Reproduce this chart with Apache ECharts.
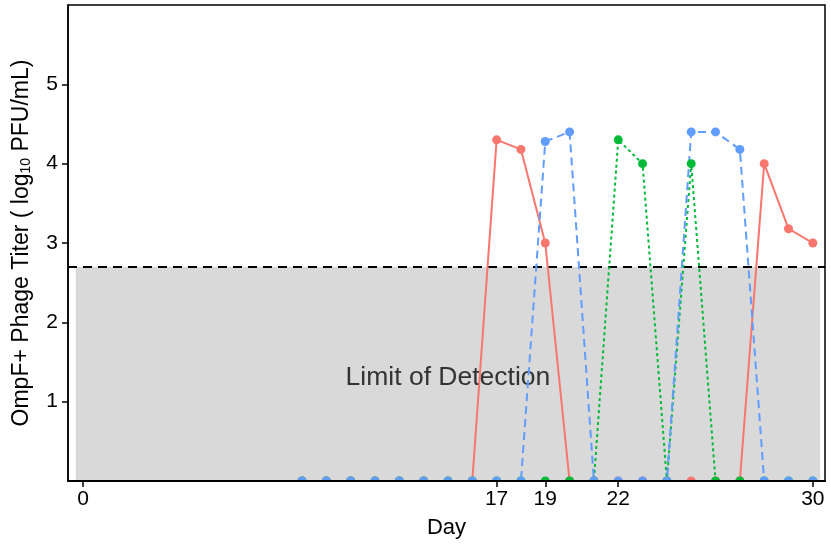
<!DOCTYPE html>
<html>
<head>
<meta charset="utf-8">
<script src="https://cdn.jsdelivr.net/npm/echarts@6/dist/echarts.min.js"></script>
<style>
  html, body { margin: 0; padding: 0; background: #fff; }
  #main { width: 831px; height: 546px; }
</style>
</head>
<body>
<div id="main"></div>
<script>
    var days = [9, 10, 11, 12, 13, 14, 15, 16, 17, 18, 19, 20, 21, 22, 23, 24, 25, 26, 27, 28, 29, 30];
    var redTiter = [0, 0, 0, 0, 0, 0, 0, 0, 4.3, 4.18, 3.0, 0, 0, 0, 0, 0, 0, 0, 0, 4.0, 3.18, 3.0];
    var greenTiter = [0, 0, 0, 0, 0, 0, 0, 0, 0, 0, 0, 0, 0, 4.3, 4.0, 0, 4.0, 0, 0, 0, 0, 0];
    var blueTiter = [0, 0, 0, 0, 0, 0, 0, 0, 0, 0, 4.28, 4.4, 0, 0, 0, 0, 4.4, 4.4, 4.18, 0, 0, 0];
    var xTicks = [0, 17, 19, 22, 30];
    var yTicks = [1, 2, 3, 4, 5];
    var detectionLimit = 2.7;

    function pairs(vals) {
        return days.map(function (d, i) { return [d, vals[i]]; });
    }

    var myChart = echarts.init(document.getElementById('main'));

    var font = 'Liberation Sans, Arial, sans-serif';

    function makeSeries(name, color, vals, dash) {
        return {
            name: name,
            type: 'line',
            data: pairs(vals),
            symbol: 'circle',
            symbolSize: 9,
            clip: true,
            z: 5,
            itemStyle: { color: color },
            lineStyle: { color: color, width: 2, type: dash },
            emphasis: { disabled: true }
        };
    }

    var option = {
        animation: false,
        textStyle: { fontFamily: font },
        grid: {
            left: 68,
            right: 6,
            top: 5,
            bottom: 65,
            show: true,
            borderColor: '#000',
            borderWidth: 1.5,
            backgroundColor: '#fff'
        },
        // white strip under the x axis so the dots sitting on 0 show as half dots
        graphic: [{
            type: 'rect',
            z: 10,
            silent: true,
            shape: { x: 69, y: 482, width: 762, height: 8 },
            style: { fill: '#fff' }
        }],
        xAxis: {
            type: 'value',
            min: -0.62,
            max: 30.5,
            z: 20,
            name: 'Day',
            nameLocation: 'middle',
            nameGap: 36,
            nameTextStyle: { fontSize: 22, color: '#000', fontFamily: font },
            splitLine: { show: false },
            axisLine: { show: true, onZero: false, lineStyle: { color: '#000', width: 2 } },
            axisTick: { show: true, customValues: xTicks, length: 6, lineStyle: { color: '#000', width: 1.5 } },
            axisLabel: { customValues: xTicks, fontSize: 21, color: '#000', margin: 8, fontFamily: font }
        },
        yAxis: {
            type: 'value',
            min: 0,
            max: 6,
            z: 20,
            name: '{n|OmpF+ Phage Titer ( log}{s|10}{n| PFU/mL)}',
            nameLocation: 'middle',
            nameGap: 35,
            nameRotate: 90,
            nameTextStyle: {
                rich: {
                    n: { fontSize: 23, color: '#000', fontFamily: font },
                    s: { fontSize: 14, color: '#000', fontFamily: font, verticalAlign: 'bottom', padding: [9, 0, 0, 0] }
                }
            },
            splitLine: { show: false },
            axisLine: { show: true, onZero: false, lineStyle: { color: '#000', width: 1.5 } },
            axisTick: { show: true, customValues: yTicks, length: 6, lineStyle: { color: '#000', width: 1.5 } },
            axisLabel: { customValues: yTicks, fontSize: 21, color: '#000', margin: 10, fontFamily: font }
        },
        series: [
            {
                type: 'line',
                data: [],
                z: 1,
                markArea: {
                    silent: true,
                    itemStyle: { color: '#d9d9d9' },
                    data: [[{ coord: [-0.3, 0] }, { coord: [30.3, detectionLimit] }]]
                },
                markLine: {
                    silent: true,
                    symbol: 'none',
                    label: { show: false },
                    lineStyle: { color: '#000', width: 1.8, type: [9, 6] },
                    data: [{ yAxis: detectionLimit }]
                },
                markPoint: {
                    silent: true,
                    symbol: 'circle',
                    symbolSize: 0,
                    label: {
                        show: true,
                        position: 'inside',
                        formatter: 'Limit of Detection',
                        fontSize: 26.5,
                        color: '#333',
                        fontFamily: font
                    },
                    data: [{ coord: [15, 1.3] }]
                }
            },
            makeSeries('red', '#F8766D', redTiter, 'solid'),
            makeSeries('green', '#00BA38', greenTiter, [3, 3]),
            makeSeries('blue', '#619CFF', blueTiter, [8, 5])
        ]
    };
    myChart.setOption(option);
</script>
</body>
</html>
